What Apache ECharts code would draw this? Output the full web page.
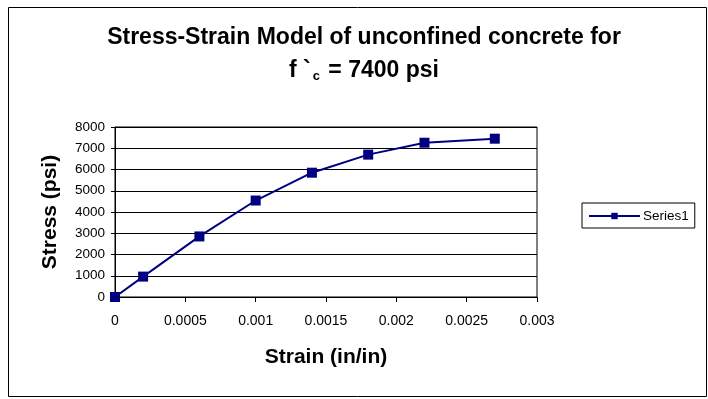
<!DOCTYPE html>
<html><head><meta charset="utf-8">
<script src="https://cdn.jsdelivr.net/npm/echarts@6/dist/echarts.min.js"></script>
<style>html,body{margin:0;padding:0;background:#fff}#c{width:708px;height:399px}</style>
</head><body><div id="c"></div>
<script>
const strain = [0, 0.0002, 0.0006, 0.001, 0.0014, 0.0018, 0.0022, 0.0027];
const stress = [0, 960, 2850, 4540, 5850, 6700, 7260, 7450];
const seriesName = 'Series1';
const chart = echarts.init(document.getElementById('c'));
const F = 'Liberation Sans, Arial, sans-serif';
chart.setOption({
  animation: false,
  backgroundColor: '#fff',
  graphic: [{type:'rect', shape:{x:8.5,y:7.5,width:698,height:389}, style:{fill:'none',stroke:'#000',lineWidth:1}}],
  title: {
    left: 359, top: 16, textAlign: 'center',
    text: '{a|Stress-Strain Model of unconfined concrete for}\n{a|f `}{s|c}{a| = 7400 psi}',
    textStyle: {
      rich: {
        a: {fontFamily: F, fontSize: 23, fontWeight: 'bold', color: '#000', lineHeight: 33},
        s: {fontFamily: F, fontSize: 13, fontWeight: 'bold', color: '#000', lineHeight: 33, verticalAlign: 'bottom', padding:[0,2,4,2]}
      }
    }
  },
  legend: {
    left: 582, top: 203, orient: 'vertical',
    borderColor: '#000', borderWidth: 1, padding: [6, 6, 5, 6],
    itemWidth: 51, itemHeight: 8, itemGap: 0,
    textStyle: {fontFamily: F, fontSize: 13.5, color: '#000', padding: [0, 0, 0, -2]},
    data: [seriesName]
  },
  grid: {left: 115, right: 171, top: 127, bottom: 102, show: true, borderColor: '#000', borderWidth: 1},
  xAxis: {
    type: 'value', min: 0, max: 0.003, interval: 0.0005,
    name: 'Strain (in/in)', nameLocation: 'middle', nameGap: 50,
    nameTextStyle: {fontFamily: F, fontSize: 21, fontWeight: 'bold', color: '#000'},
    axisLine: {lineStyle: {color: '#000'}},
    axisTick: {show: true, length: 5, lineStyle: {color: '#000'}},
    axisLabel: {fontFamily: F, fontSize: 14, color: '#000', margin: 17},
    splitLine: {show: false}
  },
  yAxis: {
    type: 'value', min: 0, max: 8000, interval: 1000,
    name: 'Stress (psi)', nameLocation: 'middle', nameGap: 54,
    nameTextStyle: {fontFamily: F, fontSize: 21, fontWeight: 'bold', color: '#000'},
    axisLine: {show: true, lineStyle: {color: '#000'}},
    axisTick: {show: true, length: 4, lineStyle: {color: '#000'}},
    axisLabel: {fontFamily: F, fontSize: 13.5, color: '#000', margin: 10, formatter: v => String(v)},
    splitLine: {show: true, lineStyle: {color: '#000', width: 1}}
  },
  series: [{
    name: seriesName, type: 'line',
    data: strain.map((x, i) => [x, stress[i]]),
    symbol: 'rect', symbolSize: 10,
    lineStyle: {color: '#000080', width: 2},
    itemStyle: {color: '#000080'}
  }]
});
</script></body></html>
